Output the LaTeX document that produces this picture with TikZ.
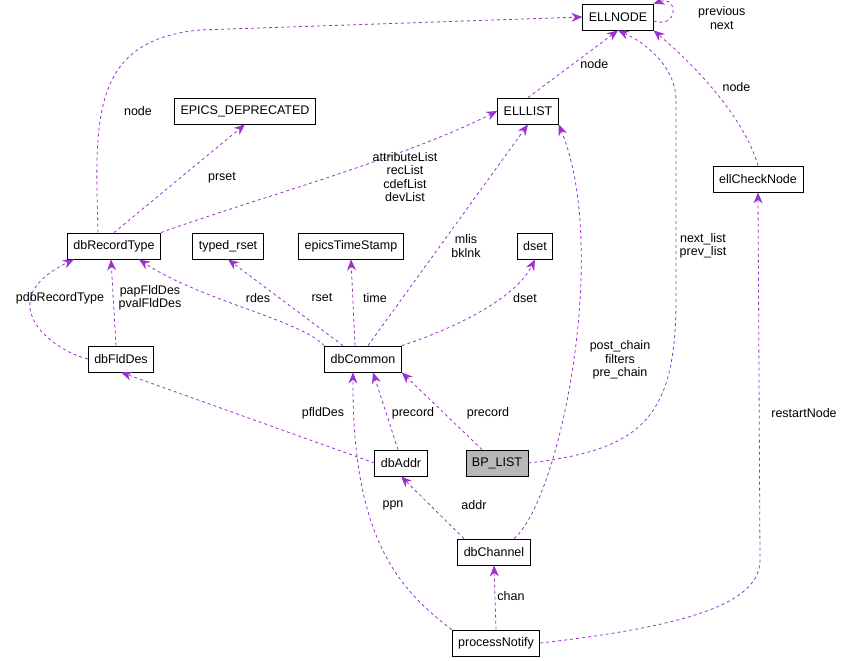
\documentclass[tikz,border=0pt]{standalone}
\usepackage{fontspec}
\setmainfont{Liberation Sans}
\usetikzlibrary{arrows.meta,positioning}
\definecolor{edgecol}{HTML}{9A32CD}
\tikzset{
  box/.style  = {draw, thick, fill=white, minimum height=26pt, inner xsep=6pt,
                 font=\fontsize{12.5}{14}\selectfont},
  focus/.style = {box, fill=black!28},
  rel/.style  = {draw=edgecol, dashed, thick, -{Stealth[length=11pt,width=9pt]}},
  lbl/.style  = {font=\fontsize{12.5}{13.5}\selectfont, align=center, inner sep=1pt}
}
\begin{document}
\begin{tikzpicture}[x=1pt,y=-1pt]
\useasboundingbox (0,0) rectangle (847,661);

% classes
\node[box] (ellnode) at (618,17) {ELLNODE};
\node[box] (elllist) at (528,111) {ELLLIST};
\node[box] (depr) at (245,111) {EPICS\_DEPRECATED};
\node[box] (ellcheck) at (758,179) {ellCheckNode};
\node[box] (rectype) at (114,246) {dbRecordType};
\node[box] (trset) at (228,246) {typed\_rset};
\node[box] (tstamp) at (351,246) {epicsTimeStamp};
\node[box] (dset) at (535,246) {dset};
\node[box] (flddes) at (121,359) {dbFldDes};
\node[box] (common) at (363,359) {dbCommon};
\node[focus] (bplist) at (497,463) {BP\_LIST};
\node[box] (addr) at (401,463) {dbAddr};
\node[box] (chan) at (494,552) {dbChannel};
\node[box] (notify) at (496,643) {processNotify};

% links
\draw[rel] (ellnode.east) ++(0,4) coordinate (self)
  .. controls +(25,8) and +(25,-8) .. (ellnode.north east);
\node[lbl, anchor=west] (lself) at (697,18) {previous\\next};

\draw[rel] (elllist.north) -- (ellnode.south) node[lbl, pos=0.5, right=6pt] (lnode1) {node};
\draw[rel] (ellcheck.north) .. controls (745,120) and (700,70) .. (ellnode.south east)
  node[lbl, pos=0.5, above right=4pt] (lnode2) {node};
\draw[rel] (rectype.north) ++(-16,0) .. controls (95,120) and (90,40) .. (200,30)
  -- (ellnode.west);
\node[lbl] (lnode3) at (138,111) {node};

\draw[rel] (rectype.north) -- (depr.south);
\node[lbl] (lprset) at (222,178) {prset};
\draw[rel] (rectype.north east) .. controls (250,200) and (400,160) .. (elllist.west);
\node[lbl] (lattr) at (405,177) {attributeList\\recList\\cdefList\\devList};

\draw[rel] (flddes.north) ++(-5,0) -- ([xshift=-3pt]rectype.south);
\node[lbl] (lpap) at (150,298) {papFldDes\\pvalFldDes};
\draw[rel] (flddes.west) .. controls (50,350) and (-10,300) .. ([xshift=-40pt]rectype.south);
\node[lbl] (lpdb) at (60,298) {pdbRecordType};

\draw[rel] (common.north west) .. controls (300,320) and (200,300) .. ([xshift=25pt]rectype.south);
\node[lbl] (lrdes) at (258,298) {rdes};
\draw[rel] (common.north) ++(-20,0) -- (trset.south);
\node[lbl] (lrset) at (322,298) {rset};
\draw[rel] (common.north) ++(-8,0) -- (tstamp.south);
\node[lbl] (ltime) at (375,298) {time};
\draw[rel] (common.north) ++(5,0) -- (elllist.south);
\node[lbl] (lmlis) at (466,246) {mlis\\bklnk};
\draw[rel] (common.north east) .. controls (450,330) and (515,300) .. (dset.south);
\node[lbl] (ldset) at (525,298) {dset};

\draw[rel] (addr.west) -- (flddes.south);
\node[lbl] (lpfld) at (323,413) {pfldDes};
\draw[rel] (addr.north) ++(-3,0) -- ([xshift=10pt]common.south);
\node[lbl] (lprec1) at (413,413) {precord};
\draw[rel] (bplist.north) ++(-15,0) -- (common.south east);
\node[lbl] (lprec2) at (488,413) {precord};
\draw[rel] (bplist.east) .. controls (640,450) and (676,420) .. (676,300)
  -- (676,100) .. controls (676,70) and (650,45) .. (ellnode.south);
\node[lbl] (lnext) at (703,246) {next\_list\\prev\_list};

\draw[rel] (chan.north) ++(20,0) .. controls (560,500) and (610,250) .. (elllist.south east);
\node[lbl] (lpost) at (620,360) {post\_chain\\filters\\pre\_chain};
\draw[rel] (chan.north) ++(-30,0) -- (addr.south);
\node[lbl] (laddr) at (474,505) {addr};

\draw[rel] (notify.north west) .. controls (400,590) and (352,540) .. ([xshift=-10pt]common.south);
\node[lbl] (lppn) at (393,505) {ppn};
\draw[rel] (notify.north) -- (chan.south);
\node[lbl] (lchan) at (511,596) {chan};
\draw[rel] (notify.east) .. controls (700,625) and (760,600) .. (760,560) -- (ellcheck.south);
\node[lbl] (lrestart) at (804,413) {restartNode};
\end{tikzpicture}
\end{document}
